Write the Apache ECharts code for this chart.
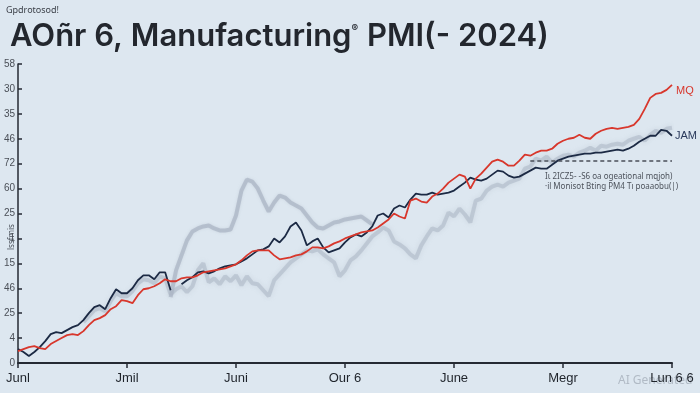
<!DOCTYPE html>
<html>
<head>
<meta charset="utf-8">
<script src="https://cdn.jsdelivr.net/npm/echarts@6/dist/echarts.min.js"></script>
<style>
  html, body { margin: 0; padding: 0; background: #dde7f0; }
  #chart { width: 700px; height: 393px; }
</style>
</head>
<body>
<div id="chart"></div>
<script>
// ---- data ----
const xLabels = ['Junl', 'Jmil', 'Juni', 'Our 6', 'June', 'Megr', 'Lun 6 6'];
const yLabels = ['0', '4', '25', '46', '15', '1', '25', '60', '72', '46', '35', '30', '58'];

const redSeries = [12,14,16,17,15,14,19,22,25,28,29,28,32,38,43,45,48,54,57,63,
  62,60,68,74,75,77,80,84,82,82,85,86,86,88,91,92,93,94,95,97,
  99,103,108,112,113,113,113,108,104,105,106,108,109,112,116,116,115,117,120,122,
  125,127,129,131,132,133,136,140,144,150,147,145,163,165,162,161,167,170,175,181,
  185,189,187,175,185,190,196,202,204,202,198,198,203,209,208,211,213,213,215,220,
  223,225,226,229,226,225,230,233,235,236,235,236,237,239,245,255,266,270,271,274,279];

const navySeries = [14,11,7,11,16,22,29,31,30,33,36,38,43,50,56,58,54,65,74,70,
  70,75,83,88,88,84,91,91,73,null,79,83,86,91,92,90,92,95,97,98,
  99,102,105,109,113,114,117,125,121,127,137,141,133,118,122,125,116,111,113,115,
  121,126,129,127,131,137,148,150,146,155,158,156,164,170,169,169,171,169,170,171,
  173,177,181,186,184,183,185,189,193,192,188,186,187,190,193,196,195,195,199,203,
  205,207,208,209,210,210,211,211,212,213,214,213,215,218,222,225,228,228,234,233,228];

const grayUpper = [null,null,null,null,null,null,null,null,null,null,
  null,null,null,null,null,null,null,null,null,null,
  null,null,null,null,null,null,null,null,66,93,
  108,123,132,135,137,138,135,133,133,134,
  148,173,184,182,175,163,152,161,168,166,
  161,158,155,148,141,136,135,138,141,142,
  144,145,146,147,143,139];

const grayBand = [null,null,null,null,null,null,null,null,null,null,null,null,
  41,47,53,55,52,62,70,67,67,72,80,84,83,80,87,85,69,74,
  77,71,77,93,100,81,85,79,87,82,88,78,87,80,79,73,67,83,89,95,
  101,105,109,113,112,114,109,105,101,87,93,103,107,113,120,127,131,136,133,122,
  119,115,109,105,118,127,135,133,138,151,147,155,149,141,163,165,173,177,179,177,
  181,183,185,195,197,205,203,207,201,205,208,209,207,211,213,216,213,218,217,219,
  220,219,223,225,227,223,229,233,231,235,236];

const refLevel = 203;      // dashed reference level
const refStartIndex = 94;  // where the dashed line starts

const categories = Array.from({ length: 121 }, (_, i) => (i % 20 === 0 ? xLabels[i / 20] : 'p' + i));

// ---- chart ----
const chart = echarts.init(document.getElementById('chart'), null, { renderer: 'canvas' });

const option = {
  backgroundColor: '#dde7f0',
  animation: false,
  title: {
    text: '{a|AOñr 6, Manufacturing}{s|®}{a| PMI(- 2024)}',
    left: 5,
    top: 16,
    textStyle: {
      rich: {
        a: { fontFamily: 'Inter, "DejaVu Sans", sans-serif', fontSize: 31, fontWeight: 600, color: '#23272e' },
        s: { fontFamily: 'Inter, sans-serif', fontSize: 10, color: '#23272e', padding: [0, 1, 16, 0] }
      }
    }
  },
  graphic: [
    { type: 'text', left: 6, top: 6, style: { text: 'Gpdrotosod!', font: '9px "Noto Sans", sans-serif', fill: '#3a3f47' } },
    { type: 'text', x: 8, y: 250, rotation: Math.PI / 2, style: { text: 'lssfmis', font: '8px "Noto Sans", sans-serif', fill: '#4a5059' } },
    { type: 'text', x: 618, y: 375, z: 0, style: { text: 'AI Generated', font: '12px "Noto Sans", sans-serif', fill: 'rgba(140,150,162,0.55)' } },
    { type: 'text', x: 545, y: 173, style: { text: 'Iι 2ICZ5- -S6 oa ogeational mqjoh)', font: '8px "Noto Sans", sans-serif', fill: '#4d535c' } },
    { type: 'text', x: 545, y: 183, style: { text: '·il Monisot Bting PM4 Tı poaaobu(|)', font: '8px "Noto Sans", sans-serif', fill: '#4d535c' } }
  ],
  grid: { left: 18, right: 28, top: 64, bottom: 30, containLabel: false },
  xAxis: {
    type: 'category',
    data: categories,
    boundaryGap: false,
    axisLine: { lineStyle: { color: '#252a33', width: 2 } },
    axisTick: { interval: 19, length: 5, lineStyle: { color: '#252a33', width: 1.5 } },
    axisLabel: { interval: 19, color: '#1f242b', fontSize: 13, margin: 9, fontFamily: '"Liberation Sans", Arial, sans-serif' },
    splitLine: { show: false }
  },
  yAxis: {
    type: 'value',
    min: 0,
    max: 300,
    interval: 25,
    axisLine: { show: true, lineStyle: { color: '#252a33', width: 1.5 } },
    axisTick: { show: true, inside: true, length: 4, lineStyle: { color: '#252a33', width: 1.5 } },
    axisLabel: {
      color: '#4a4f57', fontSize: 10, margin: 3, fontFamily: '"Liberation Sans", Arial, sans-serif',
      formatter: v => yLabels[Math.round(v / 25)]
    },
    splitLine: { show: false }
  },
  series: [
    {
      name: 'band', type: 'line', data: grayBand, symbol: 'none', z: 1,
      lineStyle: { color: 'rgba(162,173,189,0.45)', width: 4, shadowColor: 'rgba(162,173,189,0.6)', shadowBlur: 5 }
    },
    {
      name: 'upper', type: 'line', data: grayUpper, symbol: 'none', z: 1,
      lineStyle: { color: 'rgba(170,180,195,0.7)', width: 4, shadowColor: 'rgba(170,180,195,0.5)', shadowBlur: 3 }
    },
    {
      name: 'JAM', type: 'line', data: navySeries, symbol: 'none', z: 3,
      lineStyle: { color: '#1c2a44', width: 1.8 },
      endLabel: { show: true, formatter: 'JAM', color: '#2a3a5c', fontSize: 11, distance: 3, fontFamily: '"Liberation Sans", Arial, sans-serif' },
      markLine: {
        symbol: 'none', silent: true, label: { show: false },
        lineStyle: { color: '#4a4f58', type: [4, 3], width: 1.5 },
        data: [[{ xAxis: categories[refStartIndex], yAxis: refLevel }, { xAxis: categories[120], yAxis: refLevel }]]
      }
    },
    {
      name: 'MQ', type: 'line', data: redSeries, symbol: 'none', z: 4,
      lineStyle: { color: '#d8372c', width: 1.8 },
      endLabel: { show: true, formatter: 'MQ', color: '#d8372c', fontSize: 11, distance: 4, offset: [0, 6], fontFamily: '"Liberation Sans", Arial, sans-serif' }
    }
  ]
};
chart.setOption(option);
</script>
</body>
</html>
